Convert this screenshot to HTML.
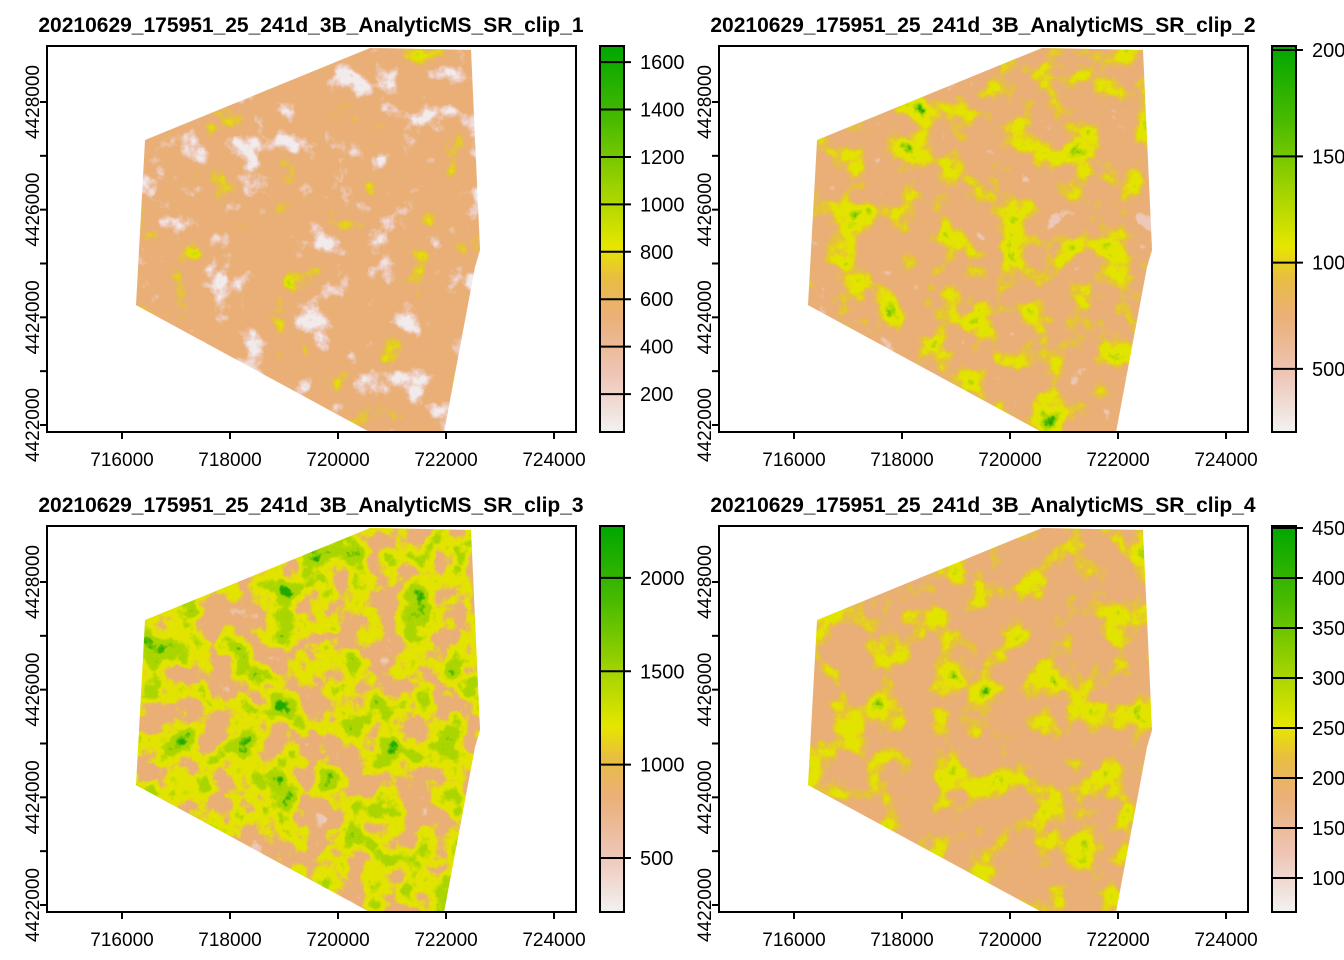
<!DOCTYPE html>
<html><head><meta charset="utf-8">
<style>
html,body{margin:0;padding:0;background:#fff;overflow:hidden;width:1344px;height:960px}
svg text{font-family:"Liberation Sans",Arial,sans-serif;fill:#000}
</style></head>
<body>
<svg id="chart" width="1344" height="960" xmlns="http://www.w3.org/2000/svg"></svg>
<script>
// ---- data ----
const panelTitles = ["20210629_175951_25_241d_3B_AnalyticMS_SR_clip_1","20210629_175951_25_241d_3B_AnalyticMS_SR_clip_2","20210629_175951_25_241d_3B_AnalyticMS_SR_clip_3","20210629_175951_25_241d_3B_AnalyticMS_SR_clip_4"];
const xTicks = [716000,718000,720000,722000,724000];
const yTicksMajor = [4422000,4424000,4426000,4428000];
const yTicksMinor = [4423000,4425000,4427000];
const footprintX = [716426,720593,722463,722630,722537,721963,720593,716259];
const footprintY = [4427294,4429004,4428967,4425249,4424933,4421866,4421866,4424227];
const legendMin = [40,203,211,660];
const legendMax = [1668,2019,2278,4520];
const legendTicks = [[200,400,600,800,1000,1200,1400,1600],[500,1000,1500,2000],[500,1000,1500,2000],[1000,1500,2000,2500,3000,3500,4000,4500]];
const legendLabels = [["200","400","600","800","1000","1200","1400","1600"],["500","1000","1500","2000"],["500","1000","1500","2000"],["1000","1500","2000","2500","3000","3500","4000","4500"]];
const seeds = [3,5,3,9];

// ---- layout ----
const NS="http://www.w3.org/2000/svg";
const svg=document.getElementById('chart');
const panels=[{ox:0,oy:0},{ox:672,oy:0},{ox:0,oy:480},{ox:672,oy:480}];
const box={l:47,r:576,t:46,b:432};
const X0=714611,X1=724407, Y0=4421870, Y1=4429040;
function el(tag,attrs,parent){const e=document.createElementNS(NS,tag);for(const k in attrs)e.setAttribute(k,attrs[k]);(parent||svg).appendChild(e);return e;}
const ramp={w:[242,236,236],p:[238,200,184],t:[233,176,118],g:[230,196,54],y:[228,228,0],l:[170,214,0],G:[30,170,0]};
const tables=[
 "p p w w p t t t t g y l G",
 "p p p t t t t g y y l G G",
 "w p p t t t y y l l G G G",
 "t t t t t t t g y y l G G"
];
const defs=el('defs',{});
panels.forEach((P,i)=>{
  const sx=v=>P.ox+box.l+(v-X0)/(X1-X0)*(box.r-box.l);
  const sy=v=>P.oy+box.b-(v-Y0)/(Y1-Y0)*(box.b-box.t);
  const g=el('g',{});
  
  
  const t=el('text',{x:P.ox+311,y:P.oy+32,'text-anchor':'middle','font-size':21,'font-weight':'bold'},g);
  t.textContent=panelTitles[i];
  
  
  const pts=footprintX.map((x,k)=>sx(x)+','+sy(footprintY[k])).join(' ');
  const cp=el('clipPath',{id:'cp'+i},defs);
  el('polygon',{points:pts},cp);
  const f=el('filter',{id:'f'+i,x:P.ox+box.l,y:P.oy+box.t,width:box.r-box.l,height:box.b-box.t,filterUnits:'userSpaceOnUse','color-interpolation-filters':'sRGB'},defs);
  el('feTurbulence',{type:'fractalNoise',baseFrequency:'0.03',numOctaves:'6',seed:seeds[i],result:'n'},f);
  el('feColorMatrix',{type:'matrix',values:'1 0 0 0 0 1 0 0 0 0 1 0 0 0 0 0 0 0 0 1'},f);
  const ct=el('feComponentTransfer',{},f);
  const keys=tables[i].split(' ');
  ['R','G','B'].forEach((c,ci)=>{el('feFunc'+c,{type:'table',tableValues:keys.map(k=>(ramp[k][ci]/255).toFixed(3)).join(' ')},ct);});
  el('feFuncA',{type:'linear',slope:0,intercept:1},ct);
  const r=el('rect',{x:P.ox+box.l,y:P.oy+box.t,width:box.r-box.l,height:box.b-box.t,filter:'url(#f'+i+')','clip-path':'url(#cp'+i+')'},g);
  
  
  const fr=el('rect',{x:P.ox+box.l,y:P.oy+box.t,width:box.r-box.l,height:box.b-box.t,fill:'none',stroke:'#000','stroke-width':2},g);
  
  
  xTicks.forEach(v=>{
    el('line',{x1:sx(v),x2:sx(v),y1:P.oy+box.b,y2:P.oy+box.b+7,stroke:'#000','stroke-width':2},g);
    const l=el('text',{x:sx(v),y:P.oy+466,'text-anchor':'middle','font-size':19},g);
    l.textContent=v;
    
    
  });
  yTicksMajor.concat(yTicksMinor).forEach(v=>{
    el('line',{x1:P.ox+box.l-7,x2:P.ox+box.l,y1:sy(v),y2:sy(v),stroke:'#000','stroke-width':2},g);
  });
  yTicksMajor.forEach(v=>{
    const l=el('text',{x:0,y:0,'text-anchor':'middle','font-size':19,transform:'translate('+(P.ox+39)+','+sy(v)+') rotate(-90)'},g);
    l.textContent=v;
    
    
  });
  const bx=P.ox+600,bw=24,bt=P.oy+box.t,bb=P.oy+box.b;
  const lg=el('linearGradient',{id:'lg'+i,x1:0,y1:1,x2:0,y2:0},defs);
  [[0,'#F2F2F2'],[0.15,'#EEC5B5'],[0.3,'#EBAF78'],[0.4,'#E8BE40'],[0.48,'#E6E600'],[0.62,'#A4D400'],[0.8,'#4CBB00'],[1,'#00A600']].forEach(s=>el('stop',{offset:s[0],'stop-color':s[1]},lg));
  const lb=el('rect',{x:bx,y:bt,width:bw,height:bb-bt,fill:'url(#lg'+i+')',stroke:'#000','stroke-width':2},g);
  
  
  const ly=v=>bb-(v-legendMin[i])/(legendMax[i]-legendMin[i])*(bb-bt);
  legendTicks[i].forEach((v,k)=>{
    el('line',{x1:bx,x2:bx+bw+7,y1:ly(v),y2:ly(v),stroke:'#000','stroke-width':2},g);
    const l=el('text',{x:bx+40,y:ly(v)+7,'font-size':20},g);
    l.textContent=legendLabels[i][k];
    
    
  });
});
</script>
</body></html>
